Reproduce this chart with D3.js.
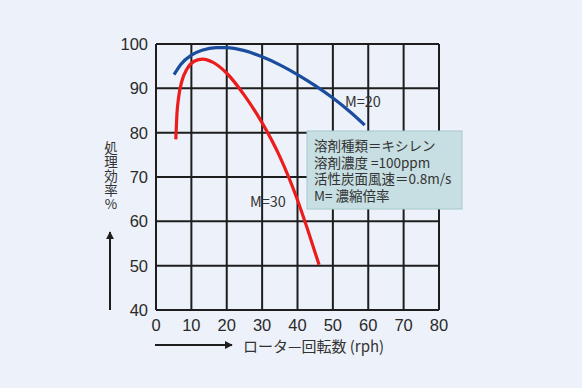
<!DOCTYPE html>
<html>
<head>
<meta charset="utf-8">
<script src="https://cdn.jsdelivr.net/npm/d3@7"></script>
<style>
  body { margin: 0; background: #edf1f9; }
  svg { display: block; font-family: "Noto Sans CJK JP", "Noto Sans", sans-serif; }
  .legend { font-family: "Noto Sans CJK JP", sans-serif; font-size: 13.5px; line-height: 16.5px;
            color: #333; white-space: pre; margin: 0; padding: 6px 0 0 7px; }
</style>
</head>
<body>
<svg width="582" height="388"></svg>
<script>
// ticks
var xTicks = [0, 10, 20, 30, 40, 50, 60, 70, 80];
var yTicks = [40, 50, 60, 70, 80, 90, 100];

// M=20 curve (rph, %)
var m20x = [5.1, 7, 10, 13, 17, 20, 25, 30, 35, 40, 45, 50, 55, 59];
var m20y = [93.1, 95.4, 97.5, 98.6, 99.2, 99.2, 98.5, 97.1, 95.3, 93.1, 90.6, 87.8, 84.6, 81.7];

// M=30 curve
var m30x = [5.6, 5.9, 6.4, 7.3, 8.8, 10.8, 13.2, 16, 20, 25, 30, 35, 40, 43, 46.1];
var m30y = [78.5, 84, 88, 91.6, 94.4, 96.1, 96.6, 95.9, 93.4, 88.4, 82.2, 74.6, 64.8, 57.8, 50.2];

var legendLines = ["溶剤種類＝キシレン", "溶剤濃度 =100ppm", "活性炭面風速＝0.8m/s", "M= 濃縮倍率"];

var svg = d3.select("svg");

var x = d3.scaleLinear().domain([0, 80]).range([156, 439]);
var y = d3.scaleLinear().domain([40, 100]).range([310, 44]);

// grid
svg.append("g").selectAll("line.v")
  .data(xTicks)
  .enter().append("line")
  .attr("x1", function(d) { return x(d); })
  .attr("x2", function(d) { return x(d); })
  .attr("y1", y(40)).attr("y2", y(100))
  .attr("stroke", "#1e1e1e").attr("stroke-width", 2);

svg.append("g").selectAll("line.h")
  .data(yTicks)
  .enter().append("line")
  .attr("y1", function(d) { return y(d); })
  .attr("y2", function(d) { return y(d); })
  .attr("x1", x(0)).attr("x2", x(80))
  .attr("stroke", "#1e1e1e").attr("stroke-width", 2);

// tick labels
svg.append("g").selectAll("text")
  .data(xTicks)
  .enter().append("text")
  .attr("x", function(d) { return x(d); })
  .attr("y", 330.5)
  .attr("text-anchor", "middle")
  .attr("font-family", "'Liberation Sans', Arial, sans-serif")
  .attr("font-size", 16.5)
  .attr("fill", "#2a2a2a")
  .text(function(d) { return d; });

svg.append("g").selectAll("text")
  .data(yTicks)
  .enter().append("text")
  .attr("x", 148)
  .attr("y", function(d) { return y(d) + 6; })
  .attr("text-anchor", "end")
  .attr("font-family", "'Liberation Sans', Arial, sans-serif")
  .attr("font-size", 16.5)
  .attr("fill", "#2a2a2a")
  .text(function(d) { return d; });

// curves
var line = d3.line()
  .x(function(d) { return x(d[0]); })
  .y(function(d) { return y(d[1]); })
  .curve(d3.curveMonotoneX);

svg.append("path")
  .attr("d", line(d3.zip(m20x, m20y)))
  .attr("fill", "none").attr("stroke", "#1a4d9e").attr("stroke-width", 3.2);

svg.append("path")
  .attr("d", line(d3.zip(m30x, m30y)))
  .attr("fill", "none").attr("stroke", "#ec1c1c").attr("stroke-width", 3.2);

svg.append("text").attr("x", 345).attr("y", 107)
  .attr("font-size", 14.5).attr("fill", "#333").text("M=20");
svg.append("text").attr("x", 250).attr("y", 207)
  .attr("font-size", 14.5).attr("fill", "#333").text("M=30");

// legend box
svg.append("rect")
  .attr("x", 307).attr("y", 131).attr("width", 155).attr("height", 78)
  .attr("fill", "#c7dfe2").attr("stroke", "#a6c8cc").attr("stroke-width", 1);

svg.append("foreignObject")
  .attr("x", 307).attr("y", 131).attr("width", 155).attr("height", 78)
  .append("xhtml:div")
  .attr("class", "legend")
  .text(legendLines.join("\n"));

// y title, vertical
svg.append("text")
  .attr("x", 111)
  .attr("y", 141)
  .attr("font-size", 13.5)
  .attr("fill", "#333")
  .style("writing-mode", "vertical-rl")
  .style("text-orientation", "upright")
  .style("letter-spacing", "0.5px")
  .text("処理効率%");

// arrows
svg.append("defs").append("marker")
  .attr("id", "ah").attr("viewBox", "0 0 10 10")
  .attr("refX", 9).attr("refY", 5)
  .attr("markerWidth", 4).attr("markerHeight", 4)
  .attr("orient", "auto")
  .append("path").attr("d", "M0,0L10,5L0,10z").attr("fill", "#1e1e1e");

svg.append("line")
  .attr("x1", 110).attr("y1", 310).attr("x2", 110).attr("y2", 232)
  .attr("stroke", "#1e1e1e").attr("stroke-width", 2)
  .attr("marker-end", "url(#ah)");

svg.append("line")
  .attr("x1", 155).attr("y1", 345).attr("x2", 232).attr("y2", 345)
  .attr("stroke", "#1e1e1e").attr("stroke-width", 2)
  .attr("marker-end", "url(#ah)");

svg.append("text").attr("x", 243).attr("y", 352)
  .attr("font-size", 15).attr("fill", "#333")
  .text("ロータ—回転数 (rph)");
</script>
</body>
</html>
